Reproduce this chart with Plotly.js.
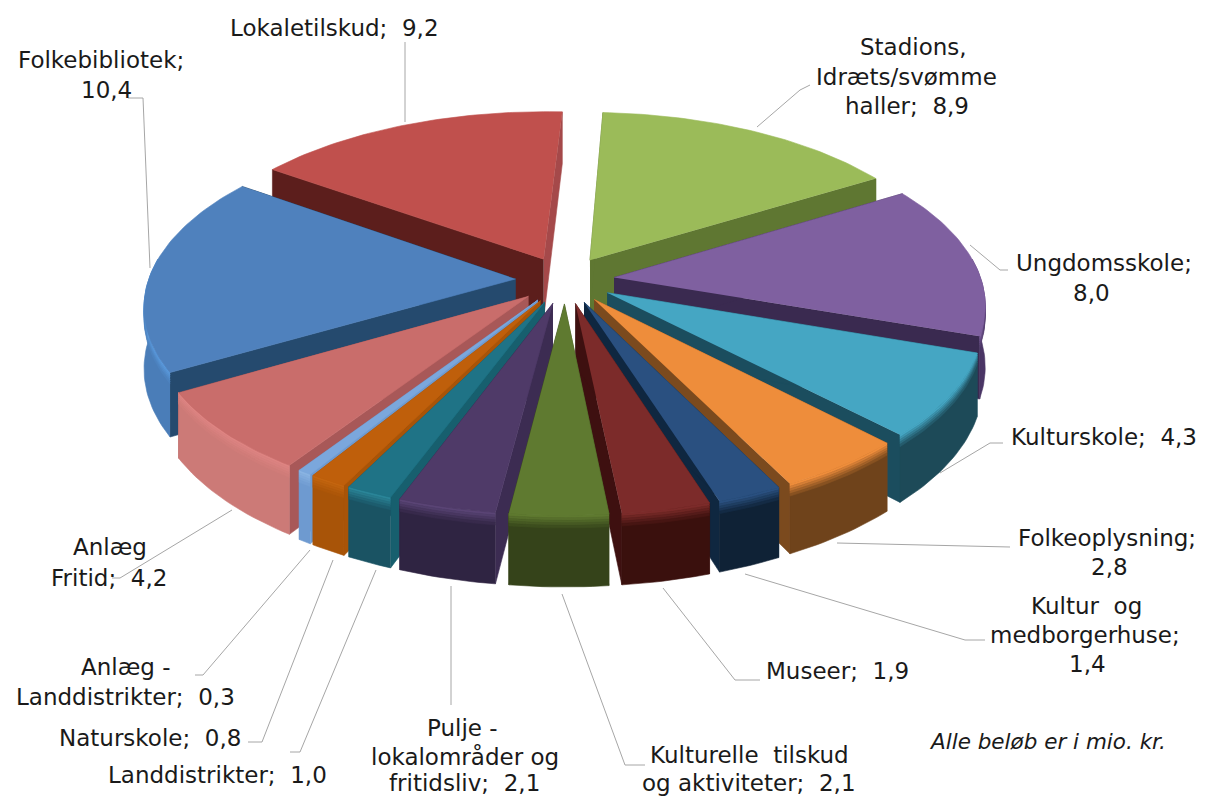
<!DOCTYPE html>
<html>
<head>
<meta charset="utf-8">
<script src="https://cdn.plot.ly/plotly-3.0.1.min.js"></script>
<style>html,body{margin:0;padding:0;background:#fff}</style>
</head>
<body>
<div id="chart" style="width:1206px;height:798px"></div>
<script>
// Values (mio. kr.), clockwise from 12 o'clock
const categories = ["Stadions, Idræts/svømme haller","Ungdomsskole","Kulturskole","Folkeoplysning","Kultur og medborgerhuse","Museer","Kulturelle tilskud og aktiviteter","Pulje - lokalområder og fritidsliv","Landdistrikter","Naturskole","Anlæg - Landdistrikter","Anlæg Fritid","Folkebibliotek","Lokaletilskud"];
const values = [8.9,8.0,4.3,2.8,1.4,1.9,2.1,2.1,1.0,0.8,0.3,4.2,10.4,9.2];
const topColors  = ["#9BBB59","#7F60A0","#45A6C3","#EE8D3B","#2A5080","#7C2B2A","#5F7A30","#4F3A68","#1F7386","#BF5F0B","#7BA7DC","#C96D6B","#4F81BD","#C0504D"];
const sideColors = ["#5F7732","#3A2A50","#1B4D5E","#7B4A1E","#0F2740","#3E1010","#3A4A1C","#3C2C52","#175F6E","#A85408","#6E9AD0","#A85858","#254A6E","#5C1E1C"];
const endWallColors = ["#5F7732","#3A2A50","#1B4D5E","#7B4A1E","#0F2740","#3E1010","#3A4A1C","#3C2C52","#175F6E","#A85408","#6E9AD0","#A85858","#254A6E","#A5494A"];
const rimColors  = ["#7C9647","#4A3565","#1D4A58","#6F431B","#0F2236","#3A100D","#35431A","#2F2442","#1A5363","#A85408","#6E9AD0","#CC7A77","#4A7DB8","#A8484A"];
const bevelColors= ["#9BBB59","#7F60A0","#45A6C3","#EE8D3B","#2A5080","#7C2B2A","#5F7A30","#5A4475","#2A8598","#C4650F","#8AB3E2","#DE8482","#5B9BDE","#C0504D"];
const labelLines = [
 ["Lokaletilskud;  9,2",334,28],
 ["Folkebibliotek;",101,60],["10,4",106,90],
 ["Stadions,",913,47],["Idræts/svømme",906,77],["haller;  8,9",907,106],
 ["Ungdomsskole;",1104,263],["8,0",1091,293],
 ["Kulturskole;  4,3",1104,437],
 ["Folkeoplysning;",1107,538],["2,8",1109,567],
 ["Kultur  og",1086,606],["medborgerhuse;",1085,635],["1,4",1087,664],
 ["Museer;  1,9",837,671],
 ["Kulturelle  tilskud",749,755],["og aktiviteter;  2,1",749,783],
 ["Pulje -",462,728],["lokalområder og",465,756],["fritidsliv;  2,1",464,783],
 ["Landdistrikter;  1,0",217,775],
 ["Naturskole;  0,8",150,738],
 ["Anlæg -",126,667],["Landdistrikter;  0,3",125,697],
 ["Anlæg",110,547],["Fritid;  4,2",109,578]
];
const leaderLines = [
 [[405,42],[405,122]],
 [[128,98],[143,98],[150,268]],
 [[757,127],[800,90],[810,85]],
 [[970,245],[1000,270],[1008,270]],
 [[940,473],[990,443],[1003,443]],
 [[837,543],[1010,547]],
 [[745,574],[965,640],[985,640]],
 [[663,588],[735,680],[760,680]],
 [[562,594],[625,765],[645,765]],
 [[451,586],[451,705]],
 [[376,570],[300,752],[290,752]],
 [[333,560],[262,742],[248,742]],
 [[310,550],[203,675],[195,675]],
 [[232,510],[120,578],[112,578]]
];
const note = "Alle beløb er i mio. kr.";

// Projection of the tilted, exploded disc onto the plot's axes
const cx=565, cy=280, A=367, B=174, persp=0.142, depth=60, explode=0.135, rotation=2.9*Math.PI/180;
const proj=(X,Y,z)=>{const s=1/(1-persp*Y);return [cx+A*X*s, cy+(B*Y+depth*z)*s];};
const total=values.reduce((a,b)=>a+b,0);
const traces=[];
function poly(pts,color){
  traces.push({type:'scatter',mode:'lines',x:pts.map(p=>p[0]),y:pts.map(p=>p[1]),fill:'toself',fillcolor:color,
    line:{color:color,width:0.6},hoverinfo:'skip',showlegend:false});
}
function mix(c1,c2,f){
  const h=(c,i)=>parseInt(c.substr(1+2*i,2),16);
  return 'rgb('+[0,1,2].map(i=>Math.round(h(c1,i)*(1-f)+h(c2,i)*f)).join(',')+')';
}
let acc=0;
const wedges=values.map((v,i)=>{
  const a0=rotation+acc/total*2*Math.PI; acc+=v; const a1=rotation+acc/total*2*Math.PI;
  return {i,a0,a1,m:(a0+a1)/2};
});
wedges.slice().sort((p,q)=>(-Math.cos(p.m))-(-Math.cos(q.m))).forEach(w=>{
  const ox=explode*Math.sin(w.m), oy=-explode*Math.cos(w.m);
  const n=Math.max(8,Math.ceil((w.a1-w.a0)*50));
  const rim=[], front=[];
  for(let k=0;k<=n;k++){
    const t=w.a0+(w.a1-w.a0)*k/n;
    const p=[ox+Math.sin(t),oy-Math.cos(t)];
    rim.push(p);
    if(-Math.cos(t)>-0.12) front.push(p);
  }
  const at=(pts,z)=>pts.map(p=>proj(p[0],p[1],z));
  const band=(z0,z1,c)=>{ if(front.length>1) poly(at(front,z0).concat(at(front,z1).reverse()),c); };
  const apex=z=>proj(ox,oy,z);
  // radial walls
  [[rim[n],endWallColors[w.i]],[rim[0],sideColors[w.i]]].forEach(e=>{
    const p=e[0];
    poly([apex(0),proj(p[0],p[1],0),proj(p[0],p[1],1),apex(1)],e[1]);
  });
  // outer wall, fading out of a bevel at its top edge
  band(0,1,rimColors[w.i]);
  for(let s=0;s<5;s++) band(s*0.035,(s+1)*0.035,mix(bevelColors[w.i],rimColors[w.i],s/5));
  // top face
  poly([apex(0)].concat(at(rim,0)),topColors[w.i]);
});
leaderLines.forEach(l=>{
  traces.unshift({type:'scatter',mode:'lines',x:l.map(p=>p[0]),y:l.map(p=>p[1]),line:{color:'#A6A6A6',width:1},hoverinfo:'skip',showlegend:false});
});
const annotations=labelLines.map(l=>({text:l[0].replace(/  /g,'\u00A0\u00A0'),x:l[1],y:l[2],xref:'x',yref:'y',showarrow:false,xanchor:'center',yanchor:'middle',
  font:{family:'"DejaVu Sans",Verdana,sans-serif',size:23,color:'#1a1a1a'}}));
annotations.push({text:'<i>'+note+'</i>',x:1047,y:741,xref:'x',yref:'y',showarrow:false,xanchor:'center',yanchor:'middle',
  font:{family:'"DejaVu Sans",Verdana,sans-serif',size:21.5,color:'#1a1a1a'}});
Plotly.newPlot('chart',traces,{
  width:1206,height:798,margin:{l:0,r:0,t:0,b:0},paper_bgcolor:'#fff',plot_bgcolor:'#fff',
  xaxis:{range:[0,1206],visible:false,fixedrange:true},
  yaxis:{range:[798,0],visible:false,fixedrange:true},
  annotations,showlegend:false
},{displayModeBar:false,staticPlot:true});
</script>
</body>
</html>
